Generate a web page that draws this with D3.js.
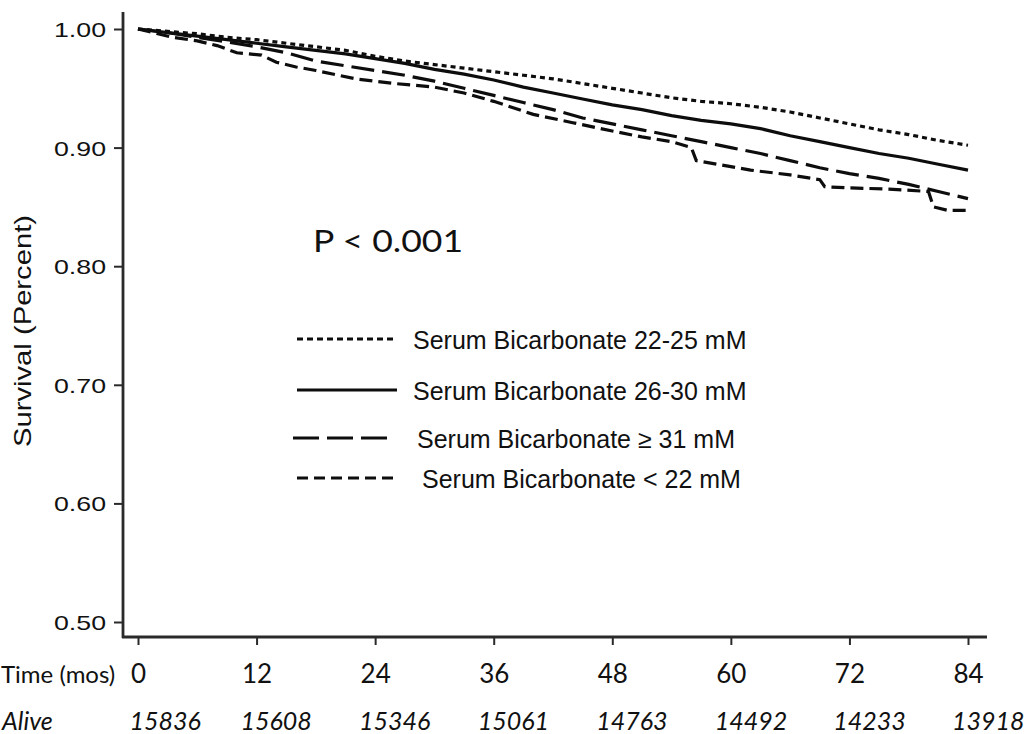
<!DOCTYPE html>
<html>
<head>
<meta charset="utf-8">
<script src="https://cdn.jsdelivr.net/npm/d3@7"></script>
<style>
  html, body { margin: 0; padding: 0; background: #fff; }
  svg { display: block; }
</style>
</head>
<body>
<svg id="chart" width="1029" height="734"></svg>
<script>
// ---------------- data ----------------
const seriesNames = [
  "Serum Bicarbonate 22-25 mM",
  "Serum Bicarbonate 26-30 mM",
  "Serum Bicarbonate \u2265 31 mM",
  "Serum Bicarbonate < 22 mM"
];
// months, survival
const s2225 = [[0,1.000],[3,0.998],[6,0.996],[9,0.993],[12,0.991],[15,0.988],[18,0.985],[21,0.982],[24,0.977],[27,0.973],[30,0.970],[33,0.967],[36,0.964],[39,0.961],[42,0.958],[45,0.954],[48,0.950],[51,0.946],[54,0.942],[57,0.939],[60,0.937],[63,0.934],[66,0.930],[69,0.925],[72,0.920],[75,0.915],[78,0.911],[81,0.906],[84,0.902]];
const s2630 = [[0,1.000],[3,0.997],[6,0.994],[9,0.991],[12,0.988],[15,0.985],[18,0.982],[21,0.979],[24,0.975],[27,0.971],[30,0.966],[33,0.962],[36,0.957],[39,0.951],[42,0.946],[45,0.941],[48,0.936],[51,0.932],[54,0.927],[57,0.923],[60,0.920],[63,0.916],[66,0.910],[69,0.905],[72,0.900],[75,0.895],[78,0.891],[81,0.886],[84,0.881]];
const s31 = [[0,1.000],[3,0.997],[6,0.993],[9,0.989],[12,0.985],[15,0.980],[18,0.973],[21,0.969],[24,0.965],[27,0.961],[30,0.956],[33,0.950],[36,0.944],[39,0.938],[42,0.932],[45,0.925],[48,0.920],[51,0.915],[54,0.910],[57,0.905],[60,0.900],[63,0.895],[66,0.889],[69,0.883],[72,0.878],[75,0.874],[78,0.869],[81,0.863],[84,0.857]];
const s22 = [[0,1.000],[2,0.996],[3.5,0.993],[6,0.990],[8,0.986],[10,0.980],[12.5,0.978],[14,0.972],[16,0.968],[18,0.965],[22,0.958],[26,0.954],[30,0.951],[33,0.946],[36,0.939],[40,0.928],[44,0.921],[48,0.914],[51,0.909],[54,0.905],[56,0.900],[56.5,0.889],[60,0.884],[62,0.881],[66,0.877],[69,0.873],[69.5,0.867],[72,0.866],[76,0.865],[80,0.863],[80.5,0.850],[82,0.847],[84,0.847]];
const seriesData = [s2225, s2630, s31, s22];

const yTicks = [0.50, 0.60, 0.70, 0.80, 0.90, 1.00];
const xTicks = [0, 12, 24, 36, 48, 60, 72, 84];
const aliveCounts = [15836, 15608, 15346, 15061, 14763, 14492, 14233, 13918];
const yTitle = "Survival (Percent)";
const xTitle = "Time (mos)";
const aliveTitle = "Alive";
const pText = "P < 0.001";

// ---------------- styles ----------------
const dashes = ["5,4", null, "23,8", "13,6"];
const legendDashes = ["6,4", null, "26,8", "11,6"];
const ink = "#0d0d0d";
const axisInk = "#2a2a2a";
const textInk = "#111";

const svg = d3.select("#chart");

const x = d3.scaleLinear().domain([0, 84]).range([138, 968]);
const y = d3.scaleLinear().domain([0.5, 1.0]).range([622, 29]);

// axis lines
svg.append("line").attr("x1", 123).attr("x2", 123).attr("y1", 12).attr("y2", 638)
  .attr("stroke", axisInk).attr("stroke-width", 2.8);
svg.append("line").attr("x1", 122).attr("x2", 987).attr("y1", 637).attr("y2", 637)
  .attr("stroke", axisInk).attr("stroke-width", 2.8);

// y axis
const yAxis = svg.append("g").attr("transform", "translate(123,0)")
  .call(d3.axisLeft(y).tickValues(yTicks).tickSize(9).tickFormat(d3.format(".2f")));
yAxis.select(".domain").remove();
yAxis.selectAll(".tick line").attr("stroke", axisInk).attr("stroke-width", 2);
yAxis.selectAll(".tick text")
  .attr("x", -17).attr("dy", "0.36em")
  .attr("font-family", "'Liberation Sans', Arial, sans-serif")
  .attr("font-size", 21).attr("fill", textInk)
  .attr("textLength", 52).attr("lengthAdjust", "spacingAndGlyphs");

// x axis
const xAxis = svg.append("g").attr("transform", "translate(0,637)")
  .call(d3.axisBottom(x).tickValues(xTicks).tickSize(8).tickFormat(d3.format("d")));
xAxis.select(".domain").remove();
xAxis.selectAll(".tick line").attr("stroke", axisInk).attr("stroke-width", 2);
xAxis.selectAll(".tick text")
  .attr("y", 46).attr("dy", 0)
  .attr("font-family", "Lato, 'Open Sans', sans-serif")
  .attr("font-size", 26).attr("fill", textInk);

// Time label and Alive row
svg.append("text").attr("x", 1).attr("y", 683)
  .attr("font-family", "Lato, 'Open Sans', sans-serif").attr("font-size", 24).attr("fill", textInk)
  .text(xTitle);
svg.append("text").attr("x", 2).attr("y", 730)
  .attr("font-family", "Lato, 'Open Sans', sans-serif").attr("font-style", "italic")
  .attr("font-size", 25).attr("fill", textInk)
  .text(aliveTitle);

const labelLeft = {};
xAxis.selectAll(".tick text").each(function(d) {
  const bb = this.getBBox();
  labelLeft[d] = x(d) + bb.x;
});
svg.append("g").selectAll("text").data(xTicks).join("text")
  .attr("x", (d) => labelLeft[d] - 1)
  .attr("y", 730)
  .attr("font-family", "Lato, 'Open Sans', sans-serif").attr("font-style", "italic")
  .attr("font-size", 25).attr("fill", textInk)
  .text((d, i) => aliveCounts[i]);

// y axis title
svg.append("text")
  .attr("transform", "translate(31,331) rotate(-90)")
  .attr("text-anchor", "middle")
  .attr("font-family", "'Liberation Sans', Arial, sans-serif")
  .attr("font-size", 24).attr("fill", textInk)
  .attr("textLength", 232).attr("lengthAdjust", "spacingAndGlyphs")
  .text(yTitle);

// curves
const line = d3.line().x((d) => x(d[0])).y((d) => y(d[1])).curve(d3.curveLinear);
svg.append("g").selectAll("path").data(seriesData).join("path")
  .attr("d", line)
  .attr("fill", "none")
  .attr("stroke", ink)
  .attr("stroke-width", 3.2)
  .attr("stroke-dasharray", (d, i) => dashes[i]);

// P value
svg.append("text").attr("x", 313).attr("y", 252)
  .attr("font-family", "Lato, 'Open Sans', sans-serif")
  .attr("font-size", 30).attr("fill", textInk)
  .attr("textLength", 150).attr("lengthAdjust", "spacingAndGlyphs")
  .text(pText);

// legend
const legendRowsY = [340, 391, 439, 479];
const legendX1 = [297, 297, 293, 297];
const legendX2 = [397, 397, 390, 393];
const legendTextX = [413, 413, 417, 422];
const lg = svg.append("g");
lg.selectAll("line").data(seriesNames).join("line")
  .attr("x1", (d, i) => legendX1[i]).attr("x2", (d, i) => legendX2[i])
  .attr("y1", (d, i) => legendRowsY[i] - 1).attr("y2", (d, i) => legendRowsY[i] - 1)
  .attr("stroke", ink).attr("stroke-width", 2.8)
  .attr("stroke-dasharray", (d, i) => legendDashes[i]);
lg.selectAll("text").data(seriesNames).join("text")
  .attr("x", (d, i) => legendTextX[i]).attr("y", (d, i) => legendRowsY[i])
  .attr("dy", "0.36em")
  .attr("font-family", "'Liberation Sans', Arial, sans-serif")
  .attr("font-size", 25).attr("fill", textInk)
  .text((d) => d);
</script>
</body>
</html>
